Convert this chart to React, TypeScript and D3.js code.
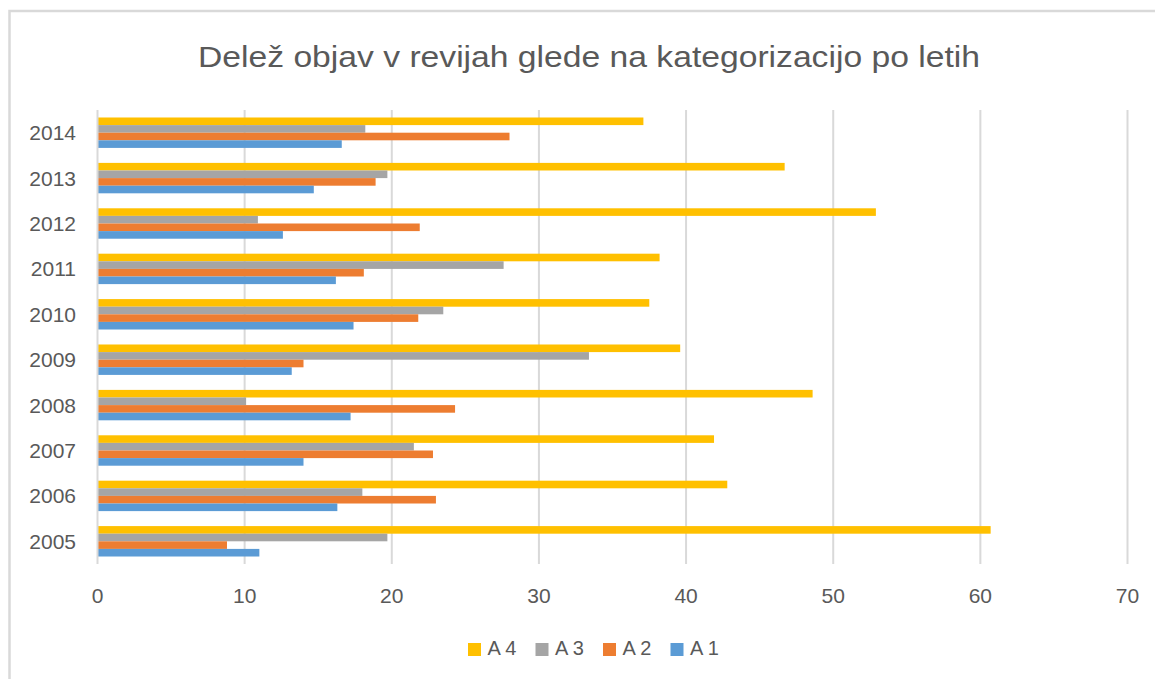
import React from "react";
import * as d3 from "d3";

const years = ["2014", "2013", "2012", "2011", "2010", "2009", "2008", "2007", "2006", "2005"];
const seriesNames = ["A 4", "A 3", "A 2", "A 1"];
const seriesColors = ["#FFC000", "#A5A5A5", "#ED7D31", "#5B9BD5"];
const a4 = [37.1, 46.7, 52.9, 38.2, 37.5, 39.6, 48.6, 41.9, 42.8, 60.7];
const a3 = [18.2, 19.7, 10.9, 27.6, 23.5, 33.4, 10.1, 21.5, 18.0, 19.7];
const a2 = [28.0, 18.9, 21.9, 18.1, 21.8, 14.0, 24.3, 22.8, 23.0, 8.8];
const a1 = [16.6, 14.7, 12.6, 16.2, 17.4, 13.2, 17.2, 14.0, 16.3, 11.0];
const xTicks = [0, 10, 20, 30, 40, 50, 60, 70];
const title = "Delež objav v revijah glede na kategorizacijo po letih";

const W = 1155;
const H = 679;
const FONT = "'Liberation Sans', Arial, sans-serif";
const TEXT = "#595959";
const GRID = "#d9d9d9";

export default function App() {
  const seriesValues = [a4, a3, a2, a1];
  const x = d3.scaleLinear().domain([0, 70]).range([97.5, 1127.5]);
  const y = d3
    .scaleBand<string>()
    .domain(years)
    .range([110, 564])
    .paddingInner(0.33)
    .paddingOuter(0.165);
  const sub = d3.scaleBand<string>().domain(seriesNames).range([0, y.bandwidth()]);

  const legendStart = 468;
  const legendStep = 67.5;

  return (
    <svg
      width={W}
      height={H}
      style={{ position: "absolute", left: 0, top: 0, background: "#fff" }}
      fontFamily={FONT}
    >
      <rect x={0} y={0} width={W} height={H} fill="#fff" />
      <rect x={9.5} y={11} width={W + 20} height={H + 20} fill="none" stroke={GRID} strokeWidth={2.5} />
      <text
        x={589}
        y={67}
        textAnchor="middle"
        fontSize={30}
        fill={TEXT}
        textLength={782}
        lengthAdjust="spacingAndGlyphs"
      >
        {title}
      </text>
      {xTicks.map((t) =>
        t === 0 ? null : (
          <line key={"g" + t} x1={x(t)} x2={x(t)} y1={110} y2={564} stroke={GRID} strokeWidth={2} />
        )
      )}
      {years.map((yr, i) => (
        <g key={yr}>
          {seriesNames.map((s, j) => (
            <rect
              key={s}
              x={x(0)}
              y={(y(yr) as number) + (sub(s) as number)}
              width={x(seriesValues[j][i]) - x(0)}
              height={sub.bandwidth()}
              fill={seriesColors[j]}
            />
          ))}
          <text
            x={76}
            y={(y(yr) as number) + y.bandwidth() / 2}
            dy="0.36em"
            textAnchor="end"
            fontSize={21}
            fill={TEXT}
          >
            {yr}
          </text>
        </g>
      ))}
      <line x1={x(0)} x2={x(0)} y1={110} y2={564} stroke={GRID} strokeWidth={2} />
      {xTicks.map((t) => (
        <text key={"t" + t} x={x(t)} y={603} textAnchor="middle" fontSize={21} fill={TEXT}>
          {t}
        </text>
      ))}
      {seriesNames.map((s, j) => (
        <g key={"l" + s} transform={`translate(${legendStart + j * legendStep},0)`}>
          <rect x={0} y={643} width={13} height={13} fill={seriesColors[j]} />
          <text x={19.5} y={655} fontSize={20} fill={TEXT}>
            {s}
          </text>
        </g>
      ))}
    </svg>
  );
}
